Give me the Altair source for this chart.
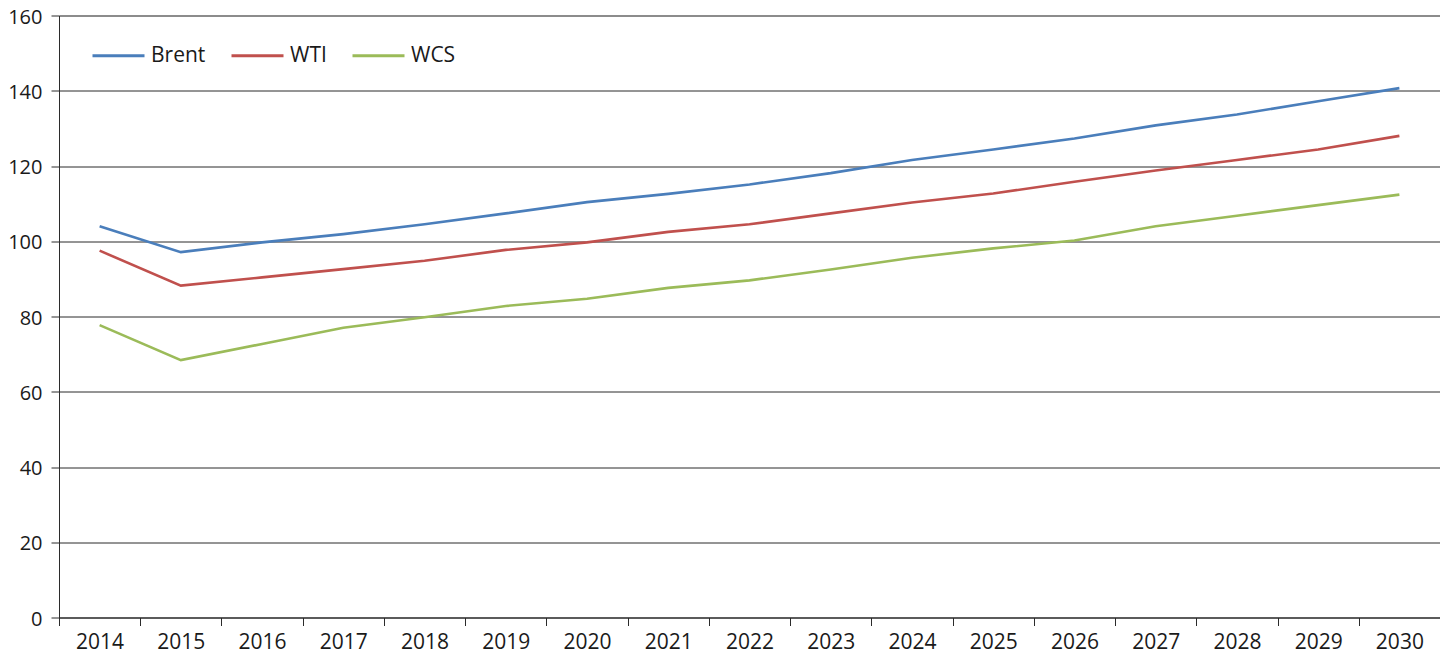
import altair as alt
import pandas as pd

years = [str(y) for y in range(2014, 2031)]
series = ["Brent", "WTI", "WCS"]
colors = ["#4A7EBB", "#C0504D", "#9BBB59"]
brent = [104.0, 97.1, 99.7, 101.9, 104.5, 107.4, 110.4, 112.6, 115.1, 118.1, 121.6, 124.4, 127.3, 130.8, 133.7, 137.2, 140.7]
wti = [97.5, 88.2, 90.4, 92.6, 94.8, 97.7, 99.7, 102.5, 104.5, 107.4, 110.3, 112.7, 115.8, 118.8, 121.6, 124.4, 128.0]
wcs = [77.7, 68.4, 72.7, 77.0, 79.8, 82.8, 84.7, 87.6, 89.6, 92.5, 95.6, 98.1, 100.2, 104.0, 106.8, 109.6, 112.4]
y_ticks = [0, 20, 40, 60, 80, 100, 120, 140, 160]

rows = []
for name, vals in zip(series, [brent, wti, wcs]):
    for yr, v in zip(years, vals):
        rows.append({"Year": yr, "Series": name, "Value": v})
df = pd.DataFrame(rows)

FONT = "Open Sans"
AX = "#2b2b2b"

chart = alt.Chart(df).mark_line(strokeWidth=2.6).encode(
    x=alt.X("Year:N", sort=years, bandPosition=0.5,
            scale=alt.Scale(type="band", domain=years, paddingInner=0, paddingOuter=0),
            axis=alt.Axis(title=None, labelAngle=0, tickBand="extent", tickSize=8,
                          labelPadding=6, grid=False, domainColor=AX,
                          tickColor=AX, labelFontSize=21, labelColor="#1a1a1a",
                          labelFont=FONT)),
    y=alt.Y("Value:Q", scale=alt.Scale(domain=[0, 160], nice=False, zero=True),
            axis=alt.Axis(title=None, values=y_ticks, tickSize=8, labelPadding=9,
                          labelOffset=1.5,
                          grid=True, gridColor=AX, gridWidth=1,
                          domainColor=AX, tickColor=AX,
                          labelFontSize=20, labelColor="#1a1a1a", labelFont=FONT)),
    color=alt.Color("Series:N", sort=series,
                    scale=alt.Scale(domain=series, range=colors),
                    legend=alt.Legend(title=None, orient="none", legendX=32, legendY=12.5,
                                      direction="horizontal", symbolType="stroke",
                                      symbolSize=2704, symbolStrokeWidth=3,
                                      labelFontSize=21, labelFont=FONT, labelColor="#1a1a1a",
                                      labelOffset=5, columnPadding=19, padding=0)),
).properties(
    width=1381, height=602,
    autosize=alt.AutoSizeParams(type="none"),
    padding={"left": 51, "top": 7.5, "right": 0, "bottom": 40},
).configure_view(stroke=None).configure(background="white")

chart.save("out.html", embed_options={"renderer": "svg", "actions": False})
